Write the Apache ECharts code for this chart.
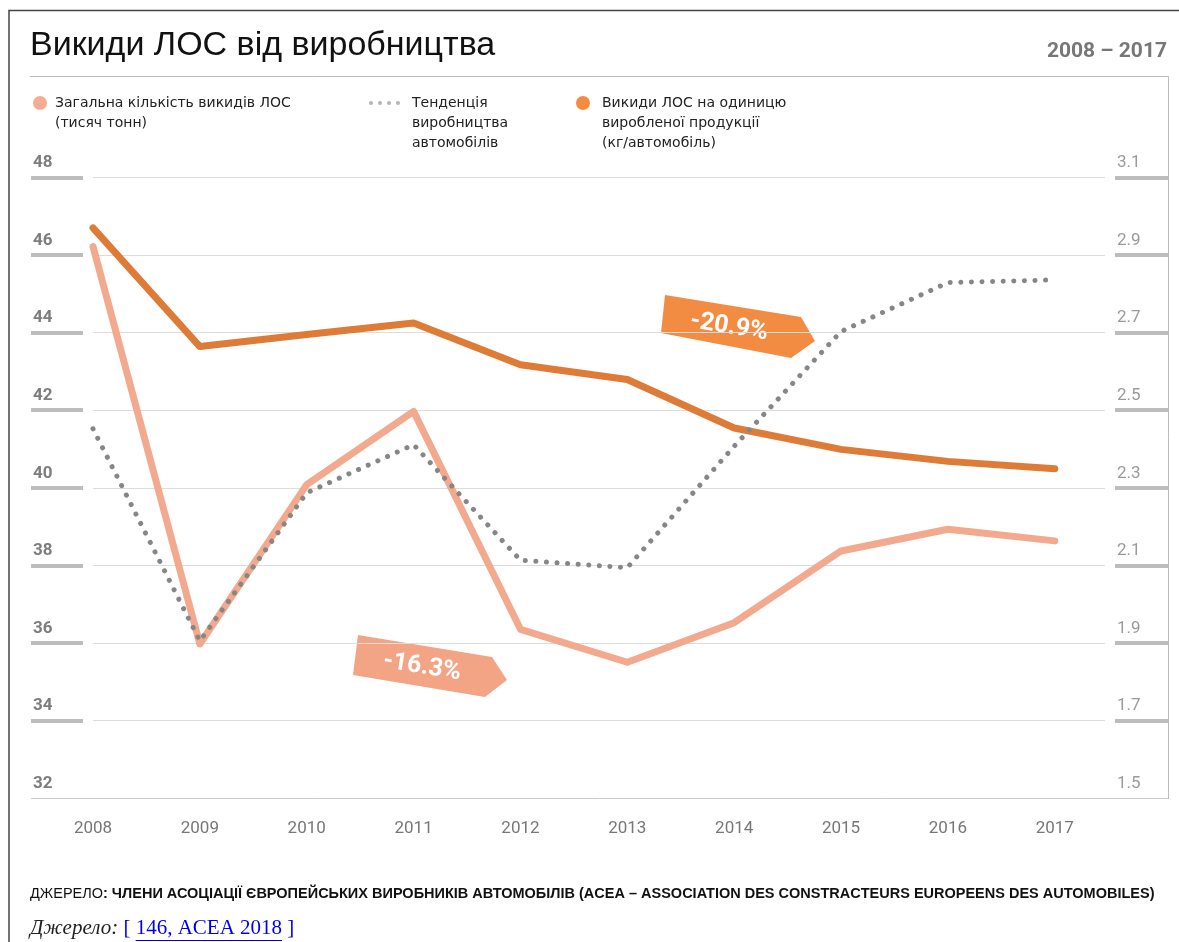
<!DOCTYPE html>
<html>
<head>
<meta charset="utf-8">
<title>Викиди ЛОС від виробництва</title>
<script src="https://cdn.jsdelivr.net/npm/echarts@6/dist/echarts.min.js"></script>
<style>
html, body { margin: 0; padding: 0; background: #fff; }
#chart { width: 1179px; height: 942px; }
</style>
</head>
<body>
<div id="chart"></div>
<script>
// data
const years = [2008, 2009, 2010, 2011, 2012, 2013, 2014, 2015, 2016, 2017]
const totalVoc = [46.22, 35.97, 40.08, 41.97, 36.35, 35.5, 36.52, 38.37, 38.93, 38.63] // тисяч тонн
const productionTrend = [41.52, 36.05, 39.87, 41.11, 38.13, 37.94, 41.07, 44.03, 45.29, 45.36] // no scale, drawn on left axis
const vocPerCar = [2.97, 2.664, 2.695, 2.725, 2.617, 2.579, 2.454, 2.399, 2.368, 2.349] // кг/автомобіль
const leftTicks = [32, 34, 36, 38, 40, 42, 44, 46, 48]
const rightTicks = [1.5, 1.7, 1.9, 2.1, 2.3, 2.5, 2.7, 2.9, 3.1]

const names = ['Загальна кількість викидів ЛОС', 'Тенденція виробництва автомобілів', 'Викиди ЛОС на одиницю виробленої продукції']
const colors = { total: '#F2A98D', trend: '#868686', perCar: '#DE7B37' }
const narrow = "'Liberation Sans Narrow', 'Roboto', sans-serif"
const legendFont = "14px 'DejaVu Sans', Verdana, sans-serif"
const serif = "'Liberation Serif', 'Times New Roman', serif"

const pairs = vals => vals.map((v, i) => [years[i], v])

// measure text so the link underline sits under the link part
const ctx = document.createElement('canvas').getContext('2d')
function textWidth (font, s) {
  ctx.font = font
  return ctx.measureText(s).width
}
const srcLabel = 'Джерело:'
const srcLink = '146, ACEA 2018'
const srcX = 30
const linkStart = srcX + textWidth('italic 21px ' + serif, srcLabel) + textWidth('21px ' + serif, ' [ ')
const linkEnd = linkStart + textWidth('21px ' + serif, srcLink)

const chart = echarts.init(document.getElementById('chart'))

const option = {
  animation: false,
  grid: { left: 93, right: 74, top: 177.5, bottom: 144 },
  xAxis: {
    type: 'value',
    min: 2008,
    max: 2017.47,
    axisLine: { show: false },
    axisTick: { show: false },
    splitLine: { show: false },
    axisLabel: {
      customValues: years,
      margin: 22,
      color: '#777',
      fontSize: 17,
      fontFamily: narrow,
      formatter: v => String(v)
    }
  },
  yAxis: [
    {
      type: 'value',
      min: 32,
      max: 48,
      interval: 2,
      offset: 10,
      axisLine: { show: false },
      axisTick: { show: true, customValues: leftTicks.slice(1), length: 52, lineStyle: { color: '#bdbdbd', width: 4 } },
      splitLine: { show: true, lineStyle: { color: '#dcdcdc', width: 1 } },
      axisLabel: {
        customValues: leftTicks,
        align: 'left',
        verticalAlign: 'bottom',
        margin: 50,
        padding: [0, 0, 6, 0],
        color: '#7d7d7d',
        fontWeight: 'bold',
        fontSize: 17,
        fontFamily: narrow
      }
    },
    {
      type: 'value',
      position: 'right',
      min: 1.5,
      max: 3.1,
      offset: 10,
      axisLine: { show: false },
      axisTick: { show: true, customValues: rightTicks.slice(1), length: 53, lineStyle: { color: '#bdbdbd', width: 4 } },
      splitLine: { show: false },
      axisLabel: {
        customValues: rightTicks,
        align: 'left',
        verticalAlign: 'bottom',
        margin: 2,
        padding: [0, 0, 6, 0],
        color: '#9a9a9a',
        fontSize: 17,
        fontFamily: narrow,
        formatter: v => v.toFixed(1)
      }
    }
  ],
  series: [
    {
      name: names[0],
      type: 'line',
      yAxisIndex: 0,
      data: pairs(totalVoc),
      symbol: 'none',
      z: 2,
      lineStyle: { color: colors.total, width: 7, cap: 'round', join: 'round' }
    },
    {
      name: names[2],
      type: 'line',
      yAxisIndex: 1,
      data: pairs(vocPerCar),
      symbol: 'none',
      z: 3,
      lineStyle: { color: colors.perCar, width: 7, cap: 'round', join: 'round' }
    },
    {
      name: names[1],
      type: 'line',
      yAxisIndex: 0,
      data: pairs(productionTrend),
      symbol: 'none',
      z: 4,
      lineStyle: { color: colors.trend, width: 5, type: [0.1, 10.5], cap: 'round', join: 'round' }
    }
  ],
  graphic: [
    // frame
    { type: 'polyline', shape: { points: [[9, 942], [9, 10.5], [1179, 10.5]] }, style: { stroke: '#444', lineWidth: 1.5, fill: null }, silent: true },
    { type: 'polyline', shape: { points: [[30, 76.5], [1168.5, 76.5], [1168.5, 799]] }, style: { stroke: '#bbb', lineWidth: 1, fill: null }, silent: true },
    { type: 'line', shape: { x1: 31, y1: 798.5, x2: 1168, y2: 798.5 }, style: { stroke: '#ccc', lineWidth: 1 }, silent: true },
    // title
    { type: 'text', left: 30, top: 29, style: { text: 'Викиди ЛОС від виробництва', font: "34px 'Liberation Sans', Arial, sans-serif", fill: '#111' } },
    { type: 'text', right: 12, top: 41, style: { text: '2008 – 2017', font: "bold 21px Roboto, sans-serif", fill: '#777' } },
    // legend
    { type: 'circle', shape: { cx: 40, cy: 103, r: 7 }, style: { fill: '#F4AC92' } },
    { type: 'text', left: 55, top: 93, style: { text: 'Загальна кількість викидів ЛОС\n(тисяч тонн)', font: legendFont, lineHeight: 20, fill: '#222' } },
    { type: 'circle', shape: { cx: 371, cy: 103, r: 2 }, style: { fill: '#b5b5b5' } },
    { type: 'circle', shape: { cx: 380, cy: 103, r: 2 }, style: { fill: '#b5b5b5' } },
    { type: 'circle', shape: { cx: 389, cy: 103, r: 2 }, style: { fill: '#b5b5b5' } },
    { type: 'circle', shape: { cx: 398, cy: 103, r: 2 }, style: { fill: '#b5b5b5' } },
    { type: 'text', left: 412, top: 93, style: { text: 'Тенденція\nвиробництва\nавтомобілів', font: legendFont, lineHeight: 20, fill: '#222' } },
    { type: 'circle', shape: { cx: 583, cy: 103, r: 7 }, style: { fill: '#F58B3E' } },
    { type: 'text', left: 602, top: 93, style: { text: 'Викиди ЛОС на одиницю\nвиробленої продукції\n(кг/автомобіль)', font: legendFont, lineHeight: 20, fill: '#222' } },
    // change badges
    { type: 'polygon', shape: { points: [[665, 295], [801, 317], [815, 341], [791, 358], [661, 333]] }, style: { fill: '#F28C43' } },
    { type: 'text', x: 729, y: 327, rotation: -0.16, style: { text: '-20.9%', font: "bold 25px " + narrow, fill: '#fff', align: 'center', verticalAlign: 'middle' } },
    { type: 'polygon', shape: { points: [[358, 635], [492, 657], [507, 680], [485, 697], [353, 675]] }, style: { fill: '#F2A485' } },
    { type: 'text', x: 422, y: 667, rotation: -0.16, style: { text: '-16.3%', font: "bold 25px " + narrow, fill: '#fff', align: 'center', verticalAlign: 'middle' } },
    // source
    {
      type: 'text', left: 30, top: 886,
      style: {
        text: '{a|ДЖЕРЕЛО}{b|: ЧЛЕНИ АСОЦІАЦІЇ ЄВРОПЕЙСЬКИХ ВИРОБНИКІВ АВТОМОБІЛІВ (ACEA – ASSOCIATION DES CONSTRACTEURS EUROPEENS DES AUTOMOBILES)}',
        rich: {
          a: { font: "14.5px 'Liberation Sans', Arial, sans-serif", fill: '#111' },
          b: { font: "bold 14.5px 'Liberation Sans', Arial, sans-serif", fill: '#111' }
        }
      }
    },
    {
      type: 'text', left: srcX, top: 918,
      style: {
        text: '{i|' + srcLabel + '}{l| [ ' + srcLink + ' ]}',
        rich: {
          i: { font: 'italic 21px ' + serif, fill: '#222' },
          l: { font: '21px ' + serif, fill: '#0000EE' }
        }
      }
    },
    { type: 'line', shape: { x1: linkStart, y1: 940.5, x2: linkEnd, y2: 940.5 }, style: { stroke: '#0000EE', lineWidth: 1 } }
  ]
}

chart.setOption(option)
</script>
</body>
</html>
